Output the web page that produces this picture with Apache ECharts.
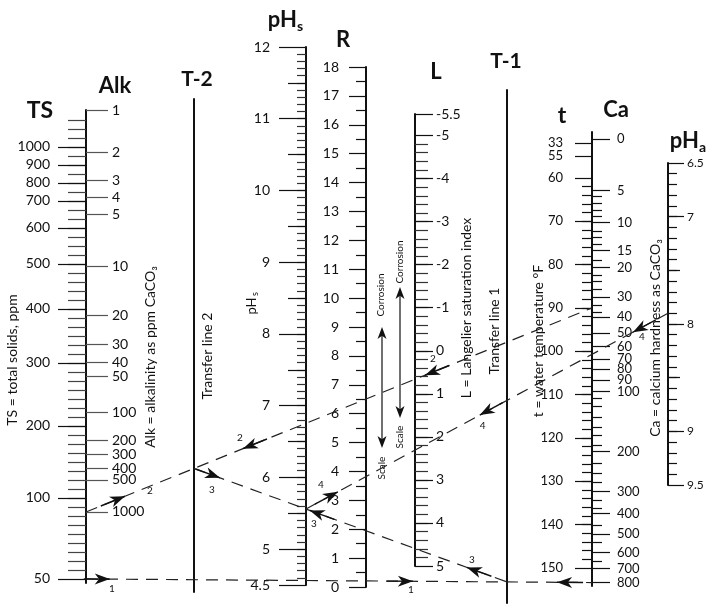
<!DOCTYPE html>
<html><head><meta charset="utf-8">
<script src="https://cdn.jsdelivr.net/npm/echarts@6/dist/echarts.min.js"></script>
<style>html,body{margin:0;padding:0;background:#fff}#c{width:715px;height:604px}</style>
</head><body><div id="c"></div>
<script>
// ---------------- data (scale calibrations & readings) ----------------
const tsLabels  = [1000, 900, 800, 700, 600, 500, 400, 300, 200, 100, 50];
const tsAt      = [48, 46, 44, 42, 39, 35, 30, 24, 17, 9, 0];            // TS/Alk scale, in minor divisions
const tsMinorAt = Array.from({length: 51}, (_, i) => i + 1);
const alkLabels = [1, 2, 3, 4, 5, 10, 20, 30, 40, 50, 100, 200, 300, 400, 500, 1000];
const alkAt     = [52.1, 47.4, 44.3, 42.4, 40.5, 34.7, 29.3, 26.1, 24.1, 22.5, 18.5, 15.4, 13.8, 12.3, 11.0, 7.44];
const phsLabels = [12, 11, 10, 9, 8, 7, 6, 5, 4.5];
const rLabels   = [0, 1, 2, 3, 4, 5, 6, 7, 8, 9, 10, 11, 12, 13, 14, 15, 16, 17, 18];
const lLabels   = [-5.5, -5, -4, -3, -2, -1, 0, 1, 2, 3, 4, 5];
const tLabels   = [33, 55, 60, 70, 80, 90, 100, 110, 120, 130, 140, 150];
const tAt       = [51.9, 55, 60, 70, 80, 90, 100, 110, 120, 130, 140, 150];   // t/Ca scale, in deg F units
const caLabels  = [0, 5, 10, 15, 20, 30, 40, 50, 60, 70, 80, 90, 100, 200, 300, 400, 500, 600, 700, 800];
const caAt      = [51.0, 62.9, 70.3, 76.8, 80.7, 87.5, 92.1, 95.8, 98.9, 101.8, 104.1, 106.6, 109.3, 123.2, 132.4, 137.5, 142.2, 146.5, 150.2, 153.4];
const caMinorAt = [64.3, 65.8, 67.4, 68.9, 72.2, 73.8, 75.3, 78.9, 82.4, 83.9, 85.8, 89.3, 90.9, 110.8, 112.6, 115.2, 117.5, 119.3, 121.6, 125.8, 128.1, 130.2, 134.3, 136.2, 140.1, 144.2, 148.6];
const phaLabels = [6.5, 7, 8, 9, 9.5];
// worked example
const exTS = 50, exCa = 800, exAlk = 1000, exT = 90, exPHa = 7.9;

// ---------------- layout / style ----------------
const INK = '#111';
const FONT = 'Lato, "Open Sans", "DejaVu Sans", sans-serif';
const S = {
  tsalk: {x: 86,  top: 110, bottom: 583, min: -0.45, max: 52.1},
  t2:    {x: 194, top: 99,  bottom: 592, min: 0, max: 1},
  phs:   {x: 306, top: 47,  bottom: 585, min: 4.5, max: 12},
  r:     {x: 366, top: 67,  bottom: 587, min: 0, max: 18},
  l:     {x: 415, top: 114, bottom: 566, min: -5.5, max: 5, inverse: true},
  t1:    {x: 507, top: 90,  bottom: 603, min: 0, max: 1},
  tca:   {x: 592, top: 132, bottom: 586, min: 49.4, max: 154.2, inverse: true},
  pha:   {x: 668, top: 163, bottom: 485, min: 6.5, max: 9.5, inverse: true}
};

function steps(a, b, s) { const o = [], n = Math.round((b - a) / s); for (let i = 0; i <= n; i++) o.push(+(a + i * s).toFixed(4)); return o; }
function lookup(at, lab) { return v => { for (let i = 0; i < at.length; i++) if (Math.abs(at[i] - v) < 1e-6) return String(lab[i]); return ''; }; }

const grids = [], xAxes = [], yAxes = [];
function layer(sc, o) {
  const i = grids.length;
  grids.push({left: sc.x, top: sc.top, width: 1, height: sc.bottom - sc.top, containLabel: false, outerBoundsMode: 'none'});
  xAxes.push({gridIndex: i, type: 'value', min: 0, max: 1, show: false});
  yAxes.push(Object.assign({
    gridIndex: i, type: 'value', min: sc.min, max: sc.max, inverse: !!sc.inverse, position: 'left',
    splitLine: {show: false}, axisLine: {show: false, onZero: false}, axisTick: {show: false}, axisLabel: {show: false}
  }, o || {}));
  return i;
}
function line() { return {axisLine: {show: true, onZero: false, lineStyle: {color: INK, width: 2}}}; }
function tk(vals, len, inside, color) { return {show: true, customValues: vals, length: len, inside: !!inside, lineStyle: {color: color || INK, width: 1.2}}; }
function lb(vals, fmt, margin, inside, size) { return {show: true, customValues: vals, formatter: fmt, margin: margin, inside: !!inside, fontSize: size || 14, color: INK, fontFamily: FONT}; }

const L = {};
// TS / Alk
L.tsalk = layer(S.tsalk, line());
layer(S.tsalk, {axisTick: tk(tsMinorAt, 18, false, '#444')});
layer(S.tsalk, {axisTick: tk(tsAt, 28, false), axisLabel: lb(tsAt, lookup(tsAt, tsLabels), 36, false)});
layer(S.tsalk, {axisTick: tk(alkAt, 22, true, '#555'), axisLabel: lb(alkAt, lookup(alkAt, alkLabels), 26, true)});
// transfer line 2
L.t2 = layer(S.t2, line());
// pHs
L.phs = layer(S.phs, line());
layer(S.phs, {axisTick: tk(steps(4.6, 11.9, 0.1), 9, false, '#333')});
layer(S.phs, {axisTick: tk(steps(5.5, 11.5, 1), 18, false)});
layer(S.phs, {axisTick: tk(phsLabels, 27, false), axisLabel: lb(phsLabels, v => String(v), 36, false)});
// R
L.r = layer(S.r, line());
layer(S.r, {axisTick: tk(steps(0.5, 17.5, 1), 10, false)});
layer(S.r, {axisTick: tk(rLabels, 17, false), axisLabel: lb(rLabels, v => String(v), 27, false)});
// L
L.l = layer(S.l, line());
layer(S.l, {axisTick: tk(steps(-4.8, 4.8, 0.2), 13, true, '#333')});
layer(S.l, {axisTick: tk(lLabels, 18, true), axisLabel: lb(lLabels, v => String(v), 21, true)});
// transfer line 1
L.t1 = layer(S.t1, line());
// t / Ca
L.tca = layer(S.tca, line());
layer(S.tca, {axisTick: tk(steps(62, 148, 2), 10, false)});
layer(S.tca, {axisTick: tk(tAt, 17, false), axisLabel: lb(tAt, lookup(tAt, tLabels), 29, false, 13)});
layer(S.tca, {axisTick: tk(caMinorAt, 10, true)});
layer(S.tca, {axisTick: tk(caAt, 18, true), axisLabel: lb(caAt, lookup(caAt, caLabels), 25, true, 13)});
// pHa
L.pha = layer(S.pha, line());
layer(S.pha, {axisTick: tk(steps(6.6, 9.4, 0.1), 9, true)});
layer(S.pha, {axisTick: tk([7.5, 8.5], 12, true)});
layer(S.pha, {axisTick: tk(phaLabels, 16, true), axisLabel: lb(phaLabels, v => String(v), 19, true, 12)});

const chart = echarts.init(document.getElementById('c'), null, {renderer: 'canvas', width: 715, height: 604});
chart.setOption({animation: false, backgroundColor: '#fff', grid: grids, xAxis: xAxes, yAxis: yAxes, series: []});

// ---------------- worked example through the scales ----------------
const P = (k, v) => chart.convertToPixel({gridIndex: L[k]}, [0, v]);
const atX = (a, b, x) => [x, a[1] + (x - a[0]) * (b[1] - a[1]) / (b[0] - a[0])];
const xT2 = P('t2', 0.5)[0], xT1 = P('t1', 0.5)[0], xPhs = P('phs', 8)[0];

const A1 = P('tsalk', tsAt[tsLabels.indexOf(exTS)]), A2 = P('tca', caAt[caLabels.indexOf(exCa)]);
const B1 = P('tsalk', alkAt[alkLabels.indexOf(exAlk)]), B2 = P('tca', tAt[tLabels.indexOf(exT)]);
const C1 = atX(B1, B2, xT2), C2 = atX(A1, A2, xT1);
const D1 = atX(C1, C2, xPhs), D2 = P('pha', exPHa);
const segs = {A: [A1, A2], B: [B1, B2], C: [C1, C2], D: [D1, D2]};
// arrows: segment, fraction along, direction, label, label offset
const arrows = [
  ['A', 0.047, 1, '1', [2, 10]], ['A', 0.646, 1, '1', [-2, 9]], ['A', 0.931, -1, '', [0, 0]],
  ['B', 0.077, 1, '2', [25, -5]], ['B', 0.31, -1, '2', [-3, -11]], ['B', 0.67, -1, '2', [8, -16]],
  ['C', 0.083, 1, '3', [-8, 12]], ['C', 0.37, -1, '3', [4, 13]], ['C', 0.872, -1, '3', [5, -8]],
  ['D', 0.088, 1, '4', [-17, -7]], ['D', 0.48, -1, '4', [3, 11]], ['D', 0.903, -1, '4', [9, 5]]
];

const G = [];
function head(tip, ux, uy, hl, hw) {
  const nx = -uy, ny = ux, bx = tip[0] - ux * hl, by = tip[1] - uy * hl;
  return {type: 'polygon', z: 30, shape: {points: [tip, [bx + nx * hw, by + ny * hw], [tip[0] - ux * hl * 0.72, tip[1] - uy * hl * 0.72], [bx - nx * hw, by - ny * hw]]}, style: {fill: INK}};
}
Object.keys(segs).forEach(k => {
  const [a, b] = segs[k];
  G.push({type: 'line', z: 25, shape: {x1: a[0], y1: a[1], x2: b[0], y2: b[1]}, style: {stroke: '#222', lineWidth: 1.2, lineDash: [12, 8]}});
});
arrows.forEach(([k, f, d, txt, off]) => {
  const [a, b] = segs[k];
  const len = Math.hypot(b[0] - a[0], b[1] - a[1]);
  const ux = (b[0] - a[0]) / len * d, uy = (b[1] - a[1]) / len * d;
  const tip = [a[0] + (b[0] - a[0]) * f, a[1] + (b[1] - a[1]) * f];
  G.push({type: 'line', z: 29, shape: {x1: tip[0] - ux * 26, y1: tip[1] - uy * 26, x2: tip[0], y2: tip[1]}, style: {stroke: INK, lineWidth: 1.4}});
  G.push(head(tip, ux, uy, 15, 5.5));
  if (txt) G.push({type: 'text', z: 30, x: tip[0] + off[0], y: tip[1] + off[1], style: {text: txt, fontSize: 10, fontFamily: FONT, fill: INK, align: 'center', verticalAlign: 'middle'}});
});

// corrosion / scale double arrows
[[382, 327, 448], [400, 287, 418]].forEach(([x, y1, y2]) => {
  G.push({type: 'line', z: 25, shape: {x1: x, y1: y1 + 6, x2: x, y2: y2 - 6}, style: {stroke: INK, lineWidth: 1.2}});
  G.push(head([x, y1], 0, -1, 12, 4.5));
  G.push(head([x, y2], 0, 1, 12, 4.5));
});

// titles
function T(text, x, y, size, weight, rot, align) {
  G.push({type: 'text', z: 40, x: x, y: y, rotation: rot || 0, style: {text: text, fontSize: size, fontWeight: weight || 'normal', fontFamily: FONT, fill: INK, align: align || 'center', verticalAlign: 'middle'}});
}
T('TS', 40, 111, 23, 'bold');
T('Alk', 115, 86, 22, 'bold');
T('T-2', 197, 79, 21, 'bold');
T('pH', 297, 20, 22, 'bold', 0, 'right'); T('s', 297, 26, 14, 'bold', 0, 'left');
T('R', 343, 40, 22, 'bold');
T('L', 436, 72, 22, 'bold');
T('T-1', 506, 61, 21, 'bold');
T('t', 562, 116, 23, 'bold');
T('Ca', 616, 110, 22, 'bold');
T('pH', 699, 141, 22, 'bold', 0, 'right'); T('a', 699, 147, 14, 'bold', 0, 'left');

const R90 = Math.PI / 2;
T('TS = total solids, ppm', 12, 360, 14, 'normal', R90);
T('Alk = alkalinity as ppm CaCO\u2083', 150, 357, 14, 'normal', R90);
T('Transfer line 2', 207, 356, 14, 'normal', R90);
T('pH', 252, 306, 13, 'normal', R90); T('s', 255, 294, 9, 'normal', R90);
T('L = Langelier saturation index', 466, 308, 14, 'normal', R90);
T('Transfer line 1', 494, 331, 14, 'normal', R90);
T('t = water temperature \u00B0F', 538, 341, 14, 'normal', R90);
T('Ca = calcium hardness as CaCO\u2083', 655, 338, 14, 'normal', R90);
T('Corrosion', 381, 295, 10, 'normal', R90);
T('Scale', 382, 468, 10, 'normal', R90);
T('Corrosion', 400, 262, 10, 'normal', R90);
T('Scale', 400, 437, 10, 'normal', R90);

chart.setOption({graphic: G});
</script></body></html>
